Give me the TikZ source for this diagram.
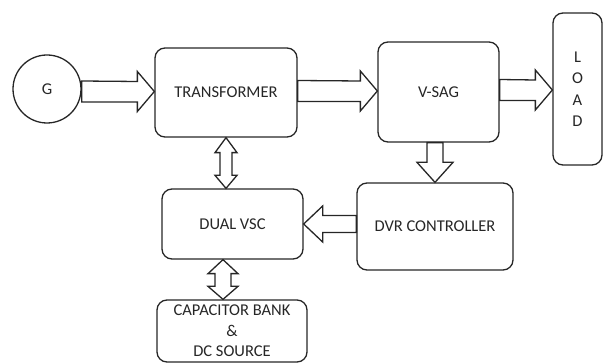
\documentclass[tikz,border=0pt]{standalone}
\usepackage{fontspec}
\setmainfont{Carlito}
\usetikzlibrary{calc}
\begin{document}
\begin{tikzpicture}[x=1pt,y=-1pt,
  box/.style={draw=black!85,line width=1.3pt,rounded corners=10pt,inner sep=0pt,
    font=\fontsize{16.5}{19}\selectfont,text=black!85},
  blk/.style={draw=black!85,line width=1.3pt,fill=white,line join=miter}]
\useasboundingbox (0,0) rectangle (605,363);
% nodes
\node[draw=black!85,line width=1.3pt,circle,minimum size=68pt,inner sep=0pt,
  font=\fontsize{16.5}{19}\selectfont,text=black!85] (G) at (47,89) {G};
\node[box,minimum width=142pt,minimum height=89pt] (T) at (226,92.5) {TRANSFORMER};
\node[box,minimum width=121pt,minimum height=100pt] (V) at (438.5,92) {V-SAG};
\node[box,minimum width=49pt,minimum height=152pt,align=center,
  font=\fontsize{16.5}{21.5}\selectfont] (L) at (577.5,89) {L\\O\\A\\D};
\node[box,minimum width=141pt,minimum height=70pt] (D) at (232.5,224) {DUAL VSC};
\node[box,minimum width=156pt,minimum height=87pt] (R) at (435,226.5) {DVR CONTROLLER};
\node[box,minimum width=150pt,minimum height=62pt,align=center,
  font=\fontsize{16.5}{20.5}\selectfont] (C) at (232,331) {CAPACITOR BANK\\\&\\DC SOURCE};
% right block arrows
\newcommand\rarrow[2]{%
 \draw[blk] (#2) -- ++(-17,-20) -- ++(0,10) -- ($(#1 |- #2)+(0,-10.5)$) -- ++(0,21)
   -- ($(#2)+(-17,10.5)$) -- ++(0,9.5) -- cycle;}
\coordinate (gt) at ($(T.west)+(0,-1)$);
\rarrow{G.east}{gt}
\coordinate (tv1) at ($(V.west)+(0,-1)$);
\rarrow{T.east}{tv1}
\coordinate (vl) at ($(L.west)+(0,1)$);
\rarrow{V.east}{vl}
% left arrow DVR -> Dual VSC
\draw[blk] (D.east) -- ++(19,-18) -- ++(0,9.5) -- ($(R.west |- D.east)+(0,-8.5)$) -- ++(0,17)
   -- ($(D.east)+(19,8.5)$) -- ++(0,9.5) -- cycle;
% down arrow V-SAG -> DVR
\coordinate (vr) at (R.north);
\draw[blk] (vr) -- ++(-18,-20) -- ++(10,0) -- ($(vr |- V.south)+(-8,0)$) -- ++(16,0)
   -- ($(vr)+(8,-20)$) -- ++(10,0) -- cycle;
% double arrow Transformer <-> Dual VSC
\coordinate (td1) at (T.south);
\coordinate (td2) at (T.south |- D.north);
\draw[blk] (td1) -- ++(11,15) -- ++(-5,0) -- ($(td2)+(6,-13)$) -- ++(5,0) -- (td2)
   -- ++(-11,-13) -- ++(5,0) -- ($(td1)+(-6,15)$) -- ++(-5,0) -- cycle;
% double arrow Dual VSC <-> Capacitor
\coordinate (dc1) at ($(D.south)+(-9.5,0)$);
\coordinate (dc2) at (dc1 |- C.north);
\draw[blk] (dc1) -- ++(15,14) -- ++(-7,0) -- ($(dc2)+(8,-13)$) -- ++(7,0) -- (dc2)
   -- ++(-15,-13) -- ++(7,0) -- ($(dc1)+(-8,14)$) -- ++(-7,0) -- cycle;
\end{tikzpicture}
\end{document}
